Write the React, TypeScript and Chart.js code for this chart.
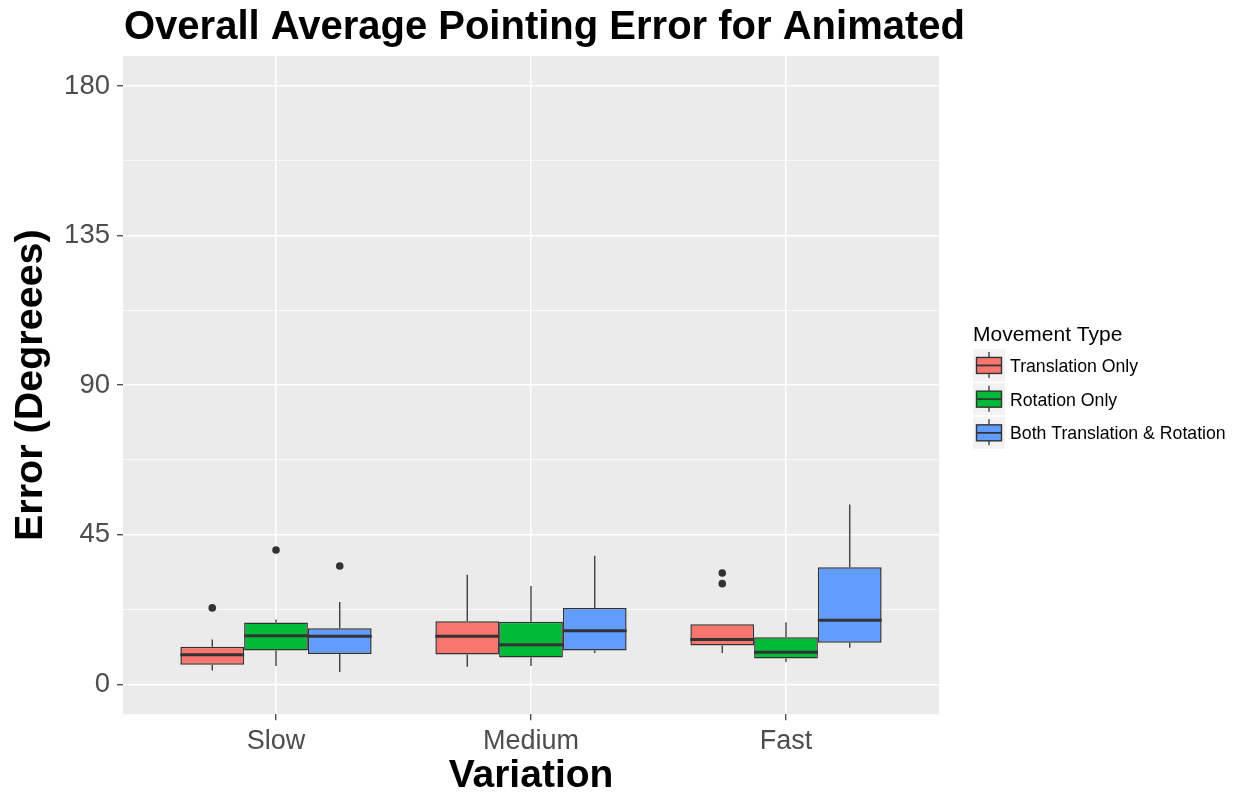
import React, { useEffect, useRef } from 'react';
import { Chart, registerables } from 'chart.js';

Chart.register(...registerables);

const categories = ['Slow', 'Medium', 'Fast'];
const categoryPositions = [1, 2, 3];
const seriesNames = ['Translation Only', 'Rotation Only', 'Both Translation & Rotation'];
const seriesColors = ['#F8766D', '#00BA38', '#619CFF'];

// [lower whisker, Q1, median, Q3, upper whisker] per category (Slow, Medium, Fast)
const translationBoxes = [
  [4.2, 5.9, 8.9, 11.3, 13.5],
  [5.3, 9.0, 14.5, 19.0, 33.0],
  [9.4, 11.7, 13.5, 18.1, 18.1],
];
const rotationBoxes = [
  [5.5, 10.2, 14.6, 18.6, 19.5],
  [5.5, 8.1, 11.9, 18.8, 29.6],
  [6.7, 7.8, 9.7, 14.2, 18.7],
];
const bothBoxes = [
  [3.7, 9.1, 14.5, 16.9, 24.8],
  [9.4, 10.2, 16.1, 23.0, 38.7],
  [11.0, 12.5, 19.3, 35.2, 54.1],
];

const translationOutliers = [[23.0], [], [30.3, 33.5]];
const rotationOutliers = [[40.4], [], []];
const bothOutliers = [[35.6], [], []];

const yMajorTicks = [0, 45, 90, 135, 180];
const yMinorTicks = [22.5, 67.5, 112.5, 157.5];

const allBoxes = [translationBoxes, rotationBoxes, bothBoxes];
const allOutliers = [translationOutliers, rotationOutliers, bothOutliers];

const FONT = "'Liberation Sans', Arial, Helvetica, sans-serif";
const TITLE = 'Overall Average Pointing Error for Animated';
const LEGEND_TITLE = 'Movement Type';
const INK = '#333333';

const panelBackground = {
  id: 'panelBackground',
  beforeDraw(chart: any) {
    const { ctx, chartArea: a } = chart;
    ctx.save();
    ctx.fillStyle = '#EBEBEB';
    ctx.fillRect(a.left, a.top, a.right - a.left, a.bottom - a.top);
    ctx.restore();
  },
};

const boxplotParts = {
  id: 'boxplotParts',
  beforeDatasetsDraw(chart: any) {
    const { ctx } = chart;
    const y = chart.scales.y;
    ctx.save();
    chart.data.datasets.forEach((ds: any, di: number) => {
      const meta = chart.getDatasetMeta(di);
      meta.data.forEach((el: any, i: number) => {
        const stats = ds.boxStats[i];
        const x = el.x;
        ctx.strokeStyle = INK;
        ctx.lineWidth = 1.3;
        ctx.beginPath();
        ctx.moveTo(x, y.getPixelForValue(stats[0]));
        ctx.lineTo(x, y.getPixelForValue(stats[1]));
        ctx.moveTo(x, y.getPixelForValue(stats[3]));
        ctx.lineTo(x, y.getPixelForValue(stats[4]));
        ctx.stroke();
        ctx.fillStyle = INK;
        ds.outliers[i].forEach((v: number) => {
          ctx.beginPath();
          ctx.arc(x, y.getPixelForValue(v), 3.8, 0, Math.PI * 2);
          ctx.fill();
        });
      });
    });
    ctx.restore();
  },
  afterDatasetsDraw(chart: any) {
    const { ctx } = chart;
    const y = chart.scales.y;
    ctx.save();
    chart.data.datasets.forEach((ds: any, di: number) => {
      const meta = chart.getDatasetMeta(di);
      meta.data.forEach((el: any, i: number) => {
        const stats = ds.boxStats[i];
        const py = y.getPixelForValue(stats[2]);
        ctx.strokeStyle = INK;
        ctx.lineWidth = 3;
        ctx.beginPath();
        ctx.moveTo(el.x - el.width / 2, py);
        ctx.lineTo(el.x + el.width / 2, py);
        ctx.stroke();
      });
    });
    ctx.restore();
  },
};

const titleAndLegend = {
  id: 'titleAndLegend',
  afterDraw(chart: any) {
    const { ctx, chartArea: a } = chart;
    ctx.save();
    ctx.fillStyle = '#000000';
    ctx.font = `bold 40px ${FONT}`;
    ctx.textAlign = 'left';
    ctx.textBaseline = 'alphabetic';
    ctx.fillText(TITLE, a.left + 1, 39);

    const left = a.right + 34;
    const centerY = (a.top + a.bottom) / 2;
    const keysTop = centerY - 35.7;
    const step = 33.7;
    const key = 32;
    ctx.textBaseline = 'middle';
    ctx.font = `21px ${FONT}`;
    ctx.fillText(LEGEND_TITLE, left, keysTop - 14.5);
    seriesNames.forEach((name, i) => {
      const kx = left;
      const ky = keysTop + i * step;
      ctx.fillStyle = '#F2F2F2';
      ctx.fillRect(kx, ky, key, key);
      const cx = kx + key / 2;
      ctx.strokeStyle = INK;
      ctx.lineWidth = 1.3;
      ctx.beginPath();
      ctx.moveTo(cx, ky + 2.5);
      ctx.lineTo(cx, ky + key - 3.5);
      ctx.stroke();
      const bw = 25;
      const bh = 16;
      const bx = cx - bw / 2;
      const by = ky + key / 2 - bh / 2;
      ctx.fillStyle = seriesColors[i];
      ctx.fillRect(bx, by, bw, bh);
      ctx.lineWidth = 1.4;
      ctx.strokeRect(bx, by, bw, bh);
      ctx.beginPath();
      ctx.lineWidth = 1.8;
      ctx.moveTo(bx, ky + key / 2);
      ctx.lineTo(bx + bw, ky + key / 2);
      ctx.stroke();
      ctx.fillStyle = '#000000';
      ctx.font = `17.7px ${FONT}`;
      ctx.fillText(name, kx + 37, ky + key / 2 + 1.5);
    });
    ctx.restore();
  },
};

export default function App() {
  const canvasRef = useRef<HTMLCanvasElement>(null);

  useEffect(() => {
    const canvas = canvasRef.current;
    if (!canvas) return;
    const datasets = allBoxes.map((boxes, s) => ({
      label: seriesNames[s],
      data: boxes.map((b, i) => ({ x: categoryPositions[i], y: [b[1], b[3]] })),
      boxStats: boxes,
      outliers: allOutliers[s],
      backgroundColor: seriesColors[s],
      borderColor: INK,
      borderWidth: 1.5,
      borderSkipped: false,
      categoryPercentage: 0.75,
      barPercentage: 1,
    }));

    const chart = new Chart(canvas, {
      type: 'bar',
      data: { datasets: datasets as any },
      plugins: [panelBackground, boxplotParts, titleAndLegend],
      options: {
        animation: false,
        responsive: false,
        devicePixelRatio: 1,
        events: [],
        layout: { padding: { top: 56, right: 299, bottom: 0, left: 0 } },
        plugins: {
          legend: { display: false },
          title: { display: false },
          tooltip: { enabled: false },
        },
        scales: {
          x: {
            type: 'linear',
            min: 0.4,
            max: 3.6,
            offset: false,
            afterBuildTicks: (s: any) => {
              s.ticks = categoryPositions.map((v) => ({ value: v }));
            },
            afterFit: (s: any) => {
              s.height = 78.7;
            },
            ticks: {
              autoSkip: false,
              maxRotation: 0,
              padding: 5.5,
              color: '#4D4D4D',
              font: { size: 27, family: FONT },
              callback: (v: any) => {
                const idx = categoryPositions.indexOf(Number(v));
                return idx >= 0 ? categories[idx] : '';
              },
            },
            grid: {
              color: '#FFFFFF',
              lineWidth: 1.5,
              offset: false,
              drawTicks: true,
              tickLength: 6,
              tickColor: INK,
              tickWidth: 1.2,
            },
            border: { display: false },
            title: {
              display: true,
              text: 'Variation',
              color: '#000000',
              font: { size: 39, weight: 'bold', family: FONT, lineHeight: 0.84 },
              padding: { top: 0, bottom: 0 },
            },
          },
          y: {
            type: 'linear',
            min: -9,
            max: 189,
            afterBuildTicks: (s: any) => {
              s.ticks = [...yMajorTicks, ...yMinorTicks]
                .sort((p, q) => p - q)
                .map((v) => ({ value: v }));
            },
            afterFit: (s: any) => {
              s.width = 123;
            },
            ticks: {
              padding: 7,
              color: '#4D4D4D',
              font: { size: 27.5, family: FONT },
              callback: (v: any) => (yMajorTicks.includes(Number(v)) ? String(v) : ''),
            },
            grid: {
              color: '#FFFFFF',
              lineWidth: (c: any) => (yMajorTicks.includes(c.tick?.value) ? 1.5 : 0.75),
              drawTicks: true,
              tickLength: 6,
              tickColor: (c: any) => (yMajorTicks.includes(c.tick?.value) ? INK : 'rgba(0,0,0,0)'),
              tickWidth: 1.2,
            },
            border: { display: false },
            title: {
              display: true,
              text: 'Error (Degreees)',
              color: '#000000',
              font: { size: 39.5, weight: 'bold', family: FONT, lineHeight: 1 },
              padding: { top: 11, bottom: 0 },
            },
          },
        },
      } as any,
    });
    return () => chart.destroy();
  }, []);

  return (
    <div style={{ position: 'fixed', left: 0, top: 0, width: 1238, height: 793, background: '#FFFFFF' }}>
      <canvas ref={canvasRef} width={1238} height={793} style={{ display: 'block' }} />
    </div>
  );
}
